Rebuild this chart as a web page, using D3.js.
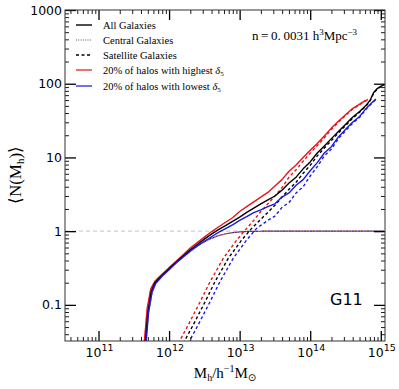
<!DOCTYPE html>
<html><head><meta charset="utf-8">
<script src="https://cdn.jsdelivr.net/npm/d3@7"></script>
<style>
html,body{margin:0;padding:0;background:#fff;}
svg{display:block;}
</style></head>
<body>
<svg id="c" width="399" height="389"></svg>
<script>
// ---- data: [log10(Mh), <N>] ----
const allGal = [[11.66,0.028],[11.70,0.08],[11.75,0.155],[11.80,0.20],[11.85,0.225],[11.90,0.25],[12.00,0.31],[12.10,0.38],[12.20,0.46],[12.30,0.56],[12.40,0.66],[12.50,0.78],[12.60,0.91],[12.70,1.05],[12.80,1.19],[12.90,1.36],[13.00,1.55],[13.10,1.80],[13.20,2.05],[13.30,2.35],[13.40,2.65],[13.50,3.0],[13.60,3.6],[13.70,4.5],[13.80,5.4],[13.90,7.0],[14.00,8.7],[14.10,11.5],[14.20,14.3],[14.30,18],[14.40,22.5],[14.50,28],[14.60,35],[14.70,42],[14.80,52],[14.85,60],[14.90,76],[14.95,86],[15.00,92],[15.05,97]];
const allHigh = [[11.645,0.028],[11.69,0.09],[11.74,0.165],[11.80,0.21],[11.85,0.235],[11.90,0.26],[12.00,0.32],[12.10,0.39],[12.20,0.48],[12.30,0.59],[12.40,0.70],[12.50,0.83],[12.60,0.98],[12.70,1.14],[12.80,1.32],[12.90,1.52],[13.00,1.85],[13.10,2.15],[13.20,2.5],[13.30,2.9],[13.40,3.35],[13.50,4.1],[13.60,5.0],[13.70,6.5],[13.80,7.9],[13.90,10.0],[14.00,12.5],[14.10,15.5],[14.20,19.5],[14.30,25],[14.40,31],[14.50,38],[14.60,46],[14.70,53],[14.78,59],[14.82,61]];
const allLow = [[11.67,0.028],[11.71,0.08],[11.76,0.15],[11.81,0.195],[11.86,0.22],[11.90,0.245],[12.00,0.30],[12.10,0.37],[12.20,0.445],[12.30,0.535],[12.40,0.63],[12.50,0.73],[12.60,0.84],[12.70,0.96],[12.80,1.08],[12.90,1.22],[13.00,1.40],[13.10,1.58],[13.20,1.78],[13.30,1.95],[13.40,2.15],[13.50,2.35],[13.60,2.9],[13.70,3.3],[13.80,4.2],[13.90,5.0],[14.00,6.6],[14.10,8.5],[14.20,11.5],[14.30,14],[14.40,19],[14.50,24],[14.60,30],[14.70,36],[14.80,47],[14.88,56],[14.93,62]];
const cenAll = [[11.66,0.028],[11.70,0.08],[11.75,0.155],[11.80,0.20],[11.85,0.225],[11.90,0.25],[12.00,0.31],[12.10,0.375],[12.20,0.45],[12.30,0.54],[12.40,0.63],[12.50,0.72],[12.60,0.80],[12.70,0.87],[12.80,0.92],[12.90,0.955],[13.00,0.975],[13.10,0.99],[13.20,0.995],[13.40,1.0],[15.05,1.0]];
const cenHigh = [[11.645,0.028],[11.69,0.09],[11.74,0.165],[11.80,0.21],[11.85,0.232],[11.90,0.255],[12.00,0.315],[12.10,0.38],[12.20,0.455],[12.30,0.545],[12.40,0.635],[12.50,0.725],[12.60,0.805],[12.70,0.872],[12.80,0.922],[12.90,0.956],[13.00,0.976],[13.10,0.99],[13.20,0.995],[13.40,1.0],[15.05,1.0]];
const cenLow = [[11.67,0.028],[11.71,0.08],[11.76,0.15],[11.81,0.195],[11.86,0.22],[11.90,0.245],[12.00,0.305],[12.10,0.37],[12.20,0.445],[12.30,0.535],[12.40,0.625],[12.50,0.715],[12.60,0.795],[12.70,0.868],[12.80,0.918],[12.90,0.954],[13.00,0.974],[13.10,0.99],[13.20,0.995],[13.40,1.0],[15.05,1.0]];
const satAll = [[12.20,0.030],[12.34,0.053],[12.51,0.11],[12.65,0.206],[12.84,0.43],[13.03,0.76],[13.17,1.09],[13.30,1.45],[13.40,1.8],[13.50,2.25],[13.60,2.9],[13.70,3.7],[13.80,4.6],[13.90,6.1],[14.00,7.8],[14.10,10.5],[14.20,13.4],[14.30,17],[14.40,21.5],[14.50,27],[14.60,34],[14.70,41],[14.80,51],[14.85,59],[14.90,75],[14.95,85],[15.00,91],[15.05,96]];
const satHigh = [[12.13,0.030],[12.27,0.053],[12.44,0.11],[12.58,0.206],[12.77,0.43],[12.96,0.76],[13.10,1.09],[13.20,1.4],[13.30,1.85],[13.40,2.35],[13.50,3.0],[13.60,3.9],[13.70,5.4],[13.80,6.8],[13.90,8.9],[14.00,11.4],[14.10,14.5],[14.20,18.5],[14.30,24],[14.40,30],[14.50,37],[14.60,45],[14.70,52],[14.78,58],[14.82,60]];
const satLow = [[12.27,0.030],[12.41,0.053],[12.58,0.11],[12.72,0.206],[12.91,0.43],[13.10,0.76],[13.24,1.09],[13.30,1.2],[13.40,1.4],[13.50,1.6],[13.60,2.1],[13.70,2.45],[13.80,3.3],[13.90,4.0],[14.00,5.6],[14.10,7.5],[14.20,10.5],[14.30,13],[14.40,18],[14.50,23],[14.60,29],[14.70,35],[14.80,46],[14.88,55],[14.93,61]];
const xMajor = [11,12,13,14,15];
const yMajor = [0.1,1,10,100,1000];
const yLabels = ["0.1","1","10","100","1000"];
const legendLabels = ["All Galaxies","Central Galaxies","Satellite Galaxies","20% of halos with highest ","20% of halos with lowest "];

// ---- layout ----
const L=65,R=385,T=10,B=341;
const svg=d3.select("#c");
const x=d3.scaleLog().domain([Math.pow(10,10.525),Math.pow(10,15.06)]).range([L,R]);
const y=d3.scaleLog().domain([Math.pow(10,-1.49),1000]).range([B,T]);

const serif="'Liberation Serif','DejaVu Serif',serif";
const sans="'DejaVu Sans',sans-serif";

svg.append("defs").append("clipPath").attr("id","clip")
  .append("rect").attr("x",L).attr("y",T).attr("width",R-L).attr("height",B-T);

// reference line at N=1
svg.append("line").attr("x1",L).attr("x2",R).attr("y1",y(1)).attr("y2",y(1))
  .attr("stroke","#cfcfcf").attr("stroke-width",1.3).attr("stroke-dasharray","4,3");

const line=d3.line().x(d=>x(Math.pow(10,d[0]))).y(d=>y(d[1]));
const g=svg.append("g").attr("clip-path","url(#clip)");
function draw(data,color,w,dash,off){
  g.append("path").datum(data).attr("d",line).attr("fill","none")
   .attr("stroke",color).attr("stroke-width",w)
   .attr("stroke-dasharray",dash||null).attr("stroke-dashoffset",off||0)
   .attr("stroke-linejoin","round");
}
const RED="#e8141c", BLUE="#1a1ae8";
// centrals (dotted, overlapping -> purple look)
draw(cenAll,"#000",1.2,"1,2",0);
draw(cenLow,BLUE,1.2,"1,2",2);
draw(cenHigh,RED,1.2,"1,2",1);
// satellites (dashed)
draw(satHigh,RED,1.4,"3,2.5");
draw(satAll,"#000",1.4,"3,2.5");
draw(satLow,BLUE,1.4,"3,2.5");
// all galaxies
draw(allHigh,RED,1.4);
draw(allGal,"#000",1.4);
draw(allLow,BLUE,1.4);

// ---- axes ----
const xMinor=[],yMinor=[];
for(let e=10;e<=15;e++)for(let k=2;k<=9;k++){const v=k*Math.pow(10,e);if(v>x.domain()[0]&&v<x.domain()[1])xMinor.push(v);}
for(let e=-2;e<=3;e++)for(let k=2;k<=9;k++){const v=k*Math.pow(10,e);if(v>y.domain()[0]&&v<y.domain()[1])yMinor.push(v);}
const xMajV=xMajor.map(e=>Math.pow(10,e));
function ax(axis,tr,vals,size){
  const a=svg.append("g").attr("transform",tr)
    .call(axis.tickValues(vals).tickSize(size).tickFormat(""));
  a.select(".domain").remove();
  a.selectAll("line").attr("stroke","#000").attr("stroke-width",size<=-10?1.3:0.9);
  return a;
}
ax(d3.axisBottom(x),`translate(0,${B})`,xMajV,-10);
ax(d3.axisBottom(x),`translate(0,${B})`,xMinor,-4);
ax(d3.axisTop(x),`translate(0,${T})`,xMajV,-10);
ax(d3.axisTop(x),`translate(0,${T})`,xMinor,-4);
ax(d3.axisLeft(y),`translate(${L},0)`,yMajor,-11);
ax(d3.axisLeft(y),`translate(${L},0)`,yMinor,-4);
ax(d3.axisRight(y),`translate(${R},0)`,yMajor,-11);
ax(d3.axisRight(y),`translate(${R},0)`,yMinor,-4);
svg.append("rect").attr("x",L).attr("y",T).attr("width",R-L).attr("height",B-T)
  .attr("fill","none").attr("stroke","#333").attr("stroke-width",1);

// tick labels
yMajor.forEach((v,i)=>{
  svg.append("text").attr("x",L-3).attr("y",y(v)+4.5).attr("text-anchor","end")
    .attr("font-family",sans).attr("font-size",12.5).attr("fill","#000").text(yLabels[i]);
});
xMajor.forEach(e=>{
  const t=svg.append("text").attr("x",x(Math.pow(10,e))+1).attr("y",B+16).attr("text-anchor","middle")
    .attr("font-family",sans).attr("font-size",12.5).attr("fill","#000");
  t.append("tspan").text("10");
  t.append("tspan").attr("dy",-6).attr("font-size",9.5).text(String(e));
});

// axis titles
const xt=svg.append("text").attr("x",225).attr("y",378).attr("text-anchor","middle")
  .attr("font-family",serif).attr("font-size",15).attr("fill","#000");
xt.append("tspan").text("M");
xt.append("tspan").attr("font-size",10).attr("dy",3).text("h");
xt.append("tspan").attr("dy",-3).text("/h");
xt.append("tspan").attr("font-size",10).attr("dy",-6).text("\u22121");
xt.append("tspan").attr("dy",6).text("M");
xt.append("tspan").attr("font-size",10).attr("dy",3).attr("font-family",sans).text("\u2299");

const yt=svg.append("text").attr("transform","translate(21,175) rotate(-90)").attr("text-anchor","middle")
  .attr("font-family",serif).attr("font-size",17).attr("fill","#000");
yt.append("tspan").attr("font-family",sans).attr("font-weight","200").text("\u27E8");
yt.append("tspan").text("N(M");
yt.append("tspan").attr("font-size",11).attr("dy",3).text("h");
yt.append("tspan").attr("dy",-3).text(")");
yt.append("tspan").attr("font-family",sans).attr("font-weight","200").text("\u27E9");

// legend
const rows=[25,40,55,70,86];
const sw=[{c:"#000",d:null},{c:"#555",d:"1,1.3",w:1},{c:"#000",d:"3,2.5"},{c:"#f07070",d:null,w:2},{c:"#7070f0",d:null,w:2}];
rows.forEach((ry,i)=>{
  svg.append("line").attr("x1",76).attr("x2",92).attr("y1",ry).attr("y2",ry)
    .attr("stroke",sw[i].c).attr("stroke-width",sw[i].w||1.4).attr("stroke-dasharray",sw[i].d);
  const t=svg.append("text").attr("x",103).attr("y",ry+3.5).attr("font-family",serif)
    .attr("font-size",10.5).attr("fill","#000").text(legendLabels[i]);
  if(i>=3){
    t.append("tspan").attr("font-style","italic").text("\u03B4");
    t.append("tspan").attr("font-size",7).attr("dy",2).text("5");
  }
});

// annotations
const nt=svg.append("text").attr("x",252).attr("y",40).attr("font-family",serif)
  .attr("font-size",13).attr("fill","#000");
nt.append("tspan").text("n\u2009=\u20090.\u20090031 h");
nt.append("tspan").attr("font-size",9).attr("dy",-5).text("3");
nt.append("tspan").attr("dy",5).text("Mpc");
nt.append("tspan").attr("font-size",9).attr("dy",-5).text("\u22123");

svg.append("text").attr("x",330).attr("y",305).attr("font-family",sans)
  .attr("font-size",16).attr("fill","#000").text("G11");
</script>
</body></html>
